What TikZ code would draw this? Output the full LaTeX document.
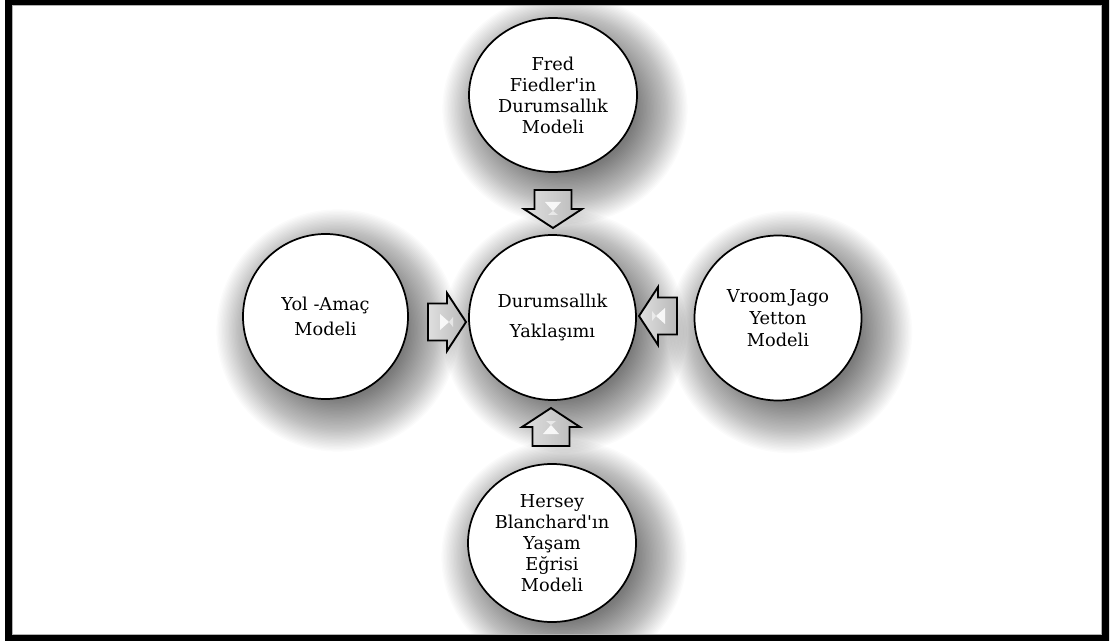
\documentclass[tikz,border=0pt]{standalone}
\usepackage{fontspec}
\setmainfont{DejaVu Serif}
\usetikzlibrary{shapes.geometric}

% soft drop shadow under a bubble: centre x, centre y, x radius, y radius (px)
\newcommand\bubbleshadow[4]{%
  \foreach \k in {0,...,39}{%
    \fill[black, opacity=0.016] (#1+12,#2+14)
      ellipse [x radius={(#3-16+1.4*\k)*0.75pt}, y radius={(#4-16+1.4*\k)*0.75pt}];
  }%
}

\begin{document}
\begin{tikzpicture}[x=0.75pt,y=-0.75pt,
  bubble/.style={ellipse, draw=black, line width=1.3pt, fill=white,
    inner sep=0pt, align=center,
    font=\fontsize{13.3}{15.75}\selectfont},
  pics/blockarrow/.style={code={
    \fill[left color=gray!25, right color=gray!55, draw=black,
          line width=1.4pt, line join=miter]
      (0,-18.5) -- (19,-18.5) -- (19,-29) -- (38,0) -- (19,29)
      -- (19,18.5) -- (0,18.5) -- cycle;
    \fill[white, opacity=0.85] (12,-8) -- (21,0) -- (12,8) -- cycle;
    \fill[white, opacity=0.55] (25,-5) -- (21,0) -- (25,5) -- cycle;
  }}]

% page
\useasboundingbox (0,0) rectangle (1113,641);
\fill[white] (0,0) rectangle (1113,641);

% shadows
\bubbleshadow{553}{95}{84}{77}
\bubbleshadow{552.5}{317.5}{83.5}{82.5}
\bubbleshadow{325.5}{316.5}{82.5}{82.5}
\bubbleshadow{778}{318}{83.5}{82.5}
\bubbleshadow{552}{543}{84}{79}

% bubbles
\node[bubble, minimum width=126pt, minimum height=115.5pt] (top) at (553,95)
  {Fred\\Fiedler\textquotesingle in\\Durumsallık\\Modeli};
\node[bubble, minimum width=125.25pt, minimum height=123.75pt,
      font=\fontsize{13.3}{22.5}\selectfont] (mid) at (552.5,317.5)
  {Durumsallık\\Yaklaşımı};
\node[bubble, minimum width=123.75pt, minimum height=123.75pt,
      font=\fontsize{13.3}{18.75}\selectfont] (left) at (325.5,316.5)
  {Yol -Amaç\\Modeli};
\node[bubble, minimum width=125.25pt, minimum height=123.75pt,
      font=\fontsize{13.3}{16.5}\selectfont] (right) at (778,318)
  {Vroom\,Jago\\Yetton\\Modeli};
\node[bubble, minimum width=126pt, minimum height=118.5pt] (bottom) at (552,543)
  {Hersey\\Blanchard\textquotesingle ın\\Yaşam\\Eğrisi\\Modeli};

% block arrows pointing into the centre
\pic[rotate=-90] at (553,190) {blockarrow};
\pic[rotate=90]  at (551,446) {blockarrow};
\pic             at (428,322) {blockarrow};
\pic[rotate=180] at (677,316) {blockarrow};

% frame
\fill[black, even odd rule] (5,0) rectangle (1109,641) (12,5) rectangle (1102,635);
\draw[gray!60, line width=0.75pt] (12.5,5.5) rectangle (1101.5,634.5);
\end{tikzpicture}
\end{document}
